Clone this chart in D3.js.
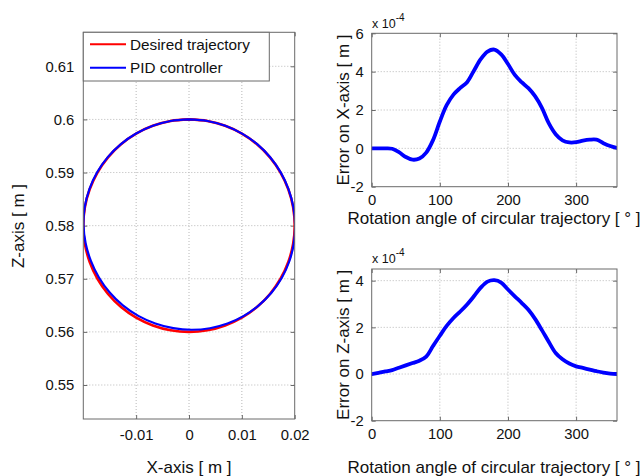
<!DOCTYPE html>
<html><head><meta charset="utf-8">
<script src="https://cdn.jsdelivr.net/npm/d3@7"></script>
<style>
html,body{margin:0;padding:0;background:#fff;}
svg text{font-family:"Liberation Sans",Arial,Helvetica,sans-serif;fill:#111;}
</style></head>
<body>
<svg id="chart" width="641" height="476"></svg>
<script>
// ---- data ----
// rotation angle samples [deg]
const angles = [0,10,20,30,40,50,60,70,80,90,100,110,120,130,140,150,160,170,180,190,200,210,220,230,240,250,260,270,280,290,300,310,320,330,340,350,360];
// desired circular trajectory (center 0, 0.58; radius 0.02) [m]
const desiredX = [0,-0.00347,-0.00684,-0.01,-0.01286,-0.01532,-0.01732,-0.01879,-0.01970,-0.02,-0.01970,-0.01879,-0.01732,-0.01532,-0.01286,-0.01,-0.00684,-0.00347,0,0.00347,0.00684,0.01,0.01286,0.01532,0.01732,0.01879,0.01970,0.02,0.01970,0.01879,0.01732,0.01532,0.01286,0.01,0.00684,0.00347,0];
const desiredZ = [0.6,0.59970,0.59879,0.59732,0.59532,0.59286,0.59,0.58684,0.58347,0.58,0.57653,0.57316,0.57,0.56714,0.56468,0.56268,0.56121,0.56030,0.56,0.56030,0.56121,0.56268,0.56468,0.56714,0.57,0.57316,0.57653,0.58,0.58347,0.58684,0.59,0.59286,0.59532,0.59732,0.59879,0.59970,0.6];
// tracking errors (x 1e-4 m)
const errorX = [0,0,0,-0.02,-0.2,-0.45,-0.59,-0.53,-0.22,0.43,1.4,2.25,2.8,3.15,3.45,4.05,4.65,5.05,5.15,4.9,4.4,3.83,3.45,3.14,2.71,2.1,1.3,0.74,0.42,0.31,0.32,0.4,0.45,0.45,0.27,0.12,0.02];
const errorZ = [0,0.05,0.11,0.17,0.27,0.37,0.47,0.57,0.75,1.2,1.64,2.06,2.4,2.68,2.98,3.33,3.7,3.96,4.02,3.92,3.62,3.33,3.05,2.75,2.35,1.87,1.37,0.9,0.63,0.45,0.33,0.26,0.19,0.12,0.06,0.02,0];
const errScale = 1e-4;
// tick labels
const leftXTicks = [-0.01,0,0.01,0.02];
const leftYTicks = [0.55,0.56,0.57,0.58,0.59,0.6,0.61];
const angleTicks = [0,100,200,300];
const errXTicks = [-2,0,2,4,6];
const errZTicks = [-2,0,2,4];
const legendLabels = ["Desired trajectory","PID controller"];

// ---- drawing ----
const svg = d3.select("#chart");
const BOX = "#6a6a6a", GRID = "#b8b8b8";
const RED = "#ff0000", BLUE = "#0000ff";
const TICKFS = 14.8, LABFS = 17;
const plain = d => (+(+d).toFixed(4)).toString();

function panel(opts){
  const {x, y, xTicks, yTicks, id} = opts;
  const [x0,x1] = x.range(), [y0,y1] = y.range(); // y0 bottom, y1 top
  const g = svg.append("g");
  g.selectAll(null).data(xTicks.filter(t=>Math.abs(x(t)-x0)>1 && Math.abs(x(t)-x1)>1)).join("line")
    .attr("x1",d=>x(d)).attr("x2",d=>x(d)).attr("y1",y0).attr("y2",y1)
    .attr("stroke",GRID).attr("stroke-width",1).attr("stroke-dasharray","1,2");
  g.selectAll(null).data(yTicks.filter(t=>Math.abs(y(t)-y0)>1 && Math.abs(y(t)-y1)>1)).join("line")
    .attr("x1",x0).attr("x2",x1).attr("y1",d=>y(d)).attr("y2",d=>y(d))
    .attr("stroke",GRID).attr("stroke-width",1).attr("stroke-dasharray","1,2");
  svg.append("clipPath").attr("id",id).append("rect")
    .attr("x",x0).attr("y",y1).attr("width",x1-x0).attr("height",y0-y1);
  const axB = d3.axisBottom(x).tickValues(xTicks).tickFormat(plain).tickSizeInner(-4).tickSizeOuter(0).tickPadding(opts.xPad||10);
  const axT = d3.axisTop(x).tickValues(xTicks).tickFormat("").tickSizeInner(-4).tickSizeOuter(0);
  const axL = d3.axisLeft(y).tickValues(yTicks).tickFormat(plain).tickSizeInner(-4).tickSizeOuter(0).tickPadding(opts.yPad||9);
  const axR = d3.axisRight(y).tickValues(yTicks).tickFormat("").tickSizeInner(-4).tickSizeOuter(0);
  const styleAx = s => { s.select(".domain").remove(); s.selectAll(".tick line").attr("stroke",BOX);
    s.selectAll("text").attr("font-size",TICKFS).attr("fill","#111").attr("font-family","Liberation Sans, Arial, sans-serif"); };
  g.append("g").attr("transform",`translate(0,${y0})`).call(axB).call(styleAx);
  g.append("g").attr("transform",`translate(0,${y1})`).call(axT).call(styleAx);
  g.append("g").attr("transform",`translate(${x0},0)`).call(axL).call(styleAx);
  g.append("g").attr("transform",`translate(${x1},0)`).call(axR).call(styleAx);
  return g;
}
function frame(x,y){
  const [x0,x1] = x.range(), [y0,y1] = y.range();
  svg.append("rect").attr("x",x0).attr("y",y1).attr("width",x1-x0).attr("height",y0-y1)
    .attr("fill","none").attr("stroke",BOX).attr("stroke-width",1);
}

// ---- left panel: trajectory ----
const xL = d3.scaleLinear().domain([-0.02,0.02]).range([83.3,294.7]);
const yL = d3.scaleLinear().domain([0.5436,0.6164]).range([419,32.3]);
panel({x:xL,y:yL,xTicks:leftXTicks,yTicks:leftYTicks,id:"clipL",yPad:9,xPad:10});
const desiredPts = angles.map((a,i)=>[desiredX[i],desiredZ[i]]);
const pidPts = angles.map((a,i)=>[desiredX[i]+errorX[i]*errScale, desiredZ[i]+errorZ[i]*errScale]);
const lineL = d3.line().x(d=>xL(d[0])).y(d=>yL(d[1])).curve(d3.curveCatmullRom.alpha(0.5));
svg.append("path").attr("d",lineL(desiredPts)).attr("fill","none").attr("stroke",RED).attr("stroke-width",2.6).attr("clip-path","url(#clipL)");
svg.append("path").attr("d",lineL(pidPts)).attr("fill","none").attr("stroke",BLUE).attr("stroke-width",2.2).attr("clip-path","url(#clipL)");
frame(xL,yL);
// legend
const lg = svg.append("g");
lg.append("rect").attr("x",83.3).attr("y",32.3).attr("width",186).attr("height",48.7).attr("fill","#fff").attr("stroke",BOX).attr("stroke-width",1);
[RED,BLUE].forEach((c,i)=>{
  const yy = 44.3 + i*23.4;
  lg.append("line").attr("x1",90).attr("x2",126).attr("y1",yy).attr("y2",yy).attr("stroke",c).attr("stroke-width",2);
  lg.append("text").attr("x",130).attr("y",yy+5.3).attr("font-size",15.3).text(legendLabels[i]);
});
svg.append("text").attr("x",189).attr("y",472.5).attr("text-anchor","middle").attr("font-size",LABFS).text("X-axis [ m ]");
svg.append("text").attr("transform","translate(23.5,226) rotate(-90)").attr("text-anchor","middle").attr("font-size",LABFS).text("Z-axis [ m ]");

// ---- right panels: errors ----
function errPanel(yDomain, yRange, ticks, values, ylab, xlabY, expY, id){
  const x = d3.scaleLinear().domain([0,360]).range([371.7,617]);
  const y = d3.scaleLinear().domain(yDomain).range(yRange);
  panel({x,y,xTicks:angleTicks,yTicks:ticks,id,yPad:8,xPad:8});
  const line = d3.line().x((d,i)=>x(angles[i])).y(d=>y(d)).curve(d3.curveCatmullRom.alpha(0.5));
  svg.append("path").attr("d",line(values)).attr("fill","none").attr("stroke",BLUE).attr("stroke-width",3.8)
    .attr("stroke-linejoin","round").attr("stroke-linecap","round").attr("clip-path",`url(#${id})`);
  frame(x,y);
  const cy = (yRange[0]+yRange[1])/2;
  svg.append("text").attr("transform",`translate(349,${cy}) rotate(-90)`).attr("text-anchor","middle").attr("font-size",LABFS).text(ylab);
  svg.append("text").attr("x",494).attr("y",xlabY).attr("text-anchor","middle").attr("font-size",LABFS).text("Rotation angle of circular trajectory [ ° ]");
  const t = svg.append("text").attr("x",372).attr("y",expY).attr("font-size",12.5);
  t.append("tspan").text("x 10");
  t.append("tspan").attr("dy",-7).attr("font-size",10).text("-4");
}
errPanel([-2,6],[186.7,33.3],errXTicks,errorX,"Error on X-axis [ m ]",224,28,"clipA");
errPanel([-2,4.5],[420.7,269],errZTicks,errorZ,"Error on Z-axis [ m ]",472.5,263,"clipB");
</script>
</body></html>
